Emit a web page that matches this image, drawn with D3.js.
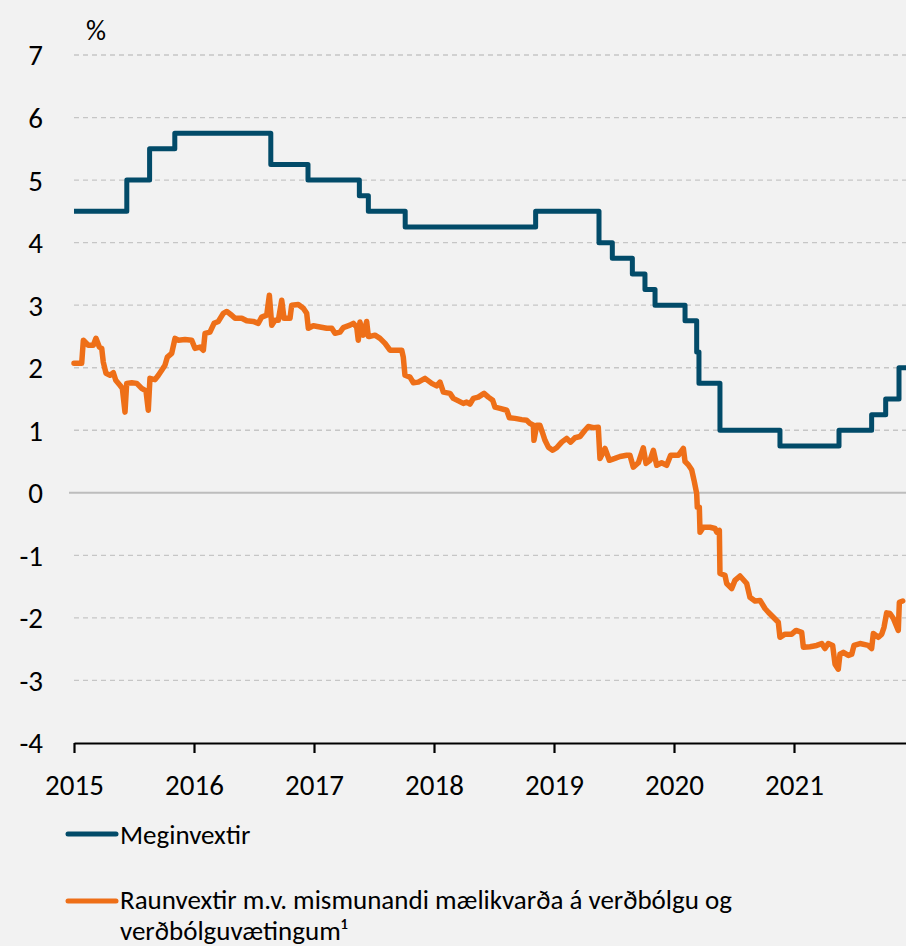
<!DOCTYPE html>
<html>
<head>
<meta charset="utf-8">
<script src="https://cdn.jsdelivr.net/npm/d3@7"></script>
<style>
  body { margin: 0; background: #f2f2f2; }
  svg { display: block; font-family: Calibri, Carlito, Lato, sans-serif; }
</style>
</head>
<body>
<svg id="chart" width="906" height="946"></svg>
<script>
// Meginvextir (step changes) - dates as decimal years
const policyDates = [2015.0, 2015.44, 2015.63, 2015.84, 2016.64, 2016.95, 2017.378, 2017.453, 2017.76,
  2018.847, 2019.375, 2019.486, 2019.653, 2019.758, 2019.842, 2020.092, 2020.189, 2020.208,
  2020.383, 2020.883, 2021.375, 2021.647, 2021.764, 2021.875, 2021.95];
const policyRate = [4.5, 5.0, 5.5, 5.75, 5.25, 5.0, 4.75, 4.5, 4.25,
  4.5, 4.0, 3.75, 3.5, 3.25, 3.0, 2.75, 2.25, 1.75,
  1.0, 0.75, 1.0, 1.25, 1.5, 2.0, 2.0];

// Raunvextir
const realDates = [2015.0, 2015.064, 2015.078, 2015.119, 2015.161, 2015.183, 2015.211, 2015.231, 2015.244, 2015.267,
  2015.300, 2015.328, 2015.348, 2015.383, 2015.403, 2015.425, 2015.439, 2015.481, 2015.523, 2015.564,
  2015.600, 2015.619, 2015.633, 2015.675, 2015.703, 2015.731, 2015.758, 2015.778, 2015.814, 2015.842,
  2015.869, 2015.925, 2015.981, 2016.008, 2016.050, 2016.078, 2016.092, 2016.133, 2016.167, 2016.203,
  2016.244, 2016.273, 2016.314, 2016.342, 2016.398, 2016.439, 2016.494, 2016.536, 2016.564, 2016.606,
  2016.628, 2016.648, 2016.675, 2016.703, 2016.731, 2016.750, 2016.800, 2016.814, 2016.869, 2016.911,
  2016.939, 2016.953, 2016.994, 2017.050, 2017.106, 2017.148, 2017.175, 2017.217, 2017.244, 2017.300,
  2017.328, 2017.356, 2017.369, 2017.383, 2017.411, 2017.439, 2017.453, 2017.467, 2017.508, 2017.550,
  2017.592, 2017.633, 2017.689, 2017.731, 2017.744, 2017.758, 2017.800, 2017.828, 2017.869, 2017.925,
  2017.981, 2018.022, 2018.050, 2018.078, 2018.133, 2018.161, 2018.203, 2018.244, 2018.272, 2018.300,
  2018.328, 2018.369, 2018.417, 2018.453, 2018.489, 2018.508, 2018.550, 2018.606, 2018.628, 2018.675,
  2018.731, 2018.772, 2018.800, 2018.828, 2018.833, 2018.856, 2018.883, 2018.906, 2018.925, 2018.953,
  2018.989, 2019.022, 2019.064, 2019.106, 2019.139, 2019.175, 2019.217, 2019.258, 2019.286, 2019.328,
  2019.369, 2019.383, 2019.425, 2019.461, 2019.508, 2019.550, 2019.606, 2019.633, 2019.661, 2019.703,
  2019.744, 2019.767, 2019.800, 2019.828, 2019.856, 2019.897, 2019.939, 2019.972, 2020.036, 2020.078,
  2020.092, 2020.119, 2020.147, 2020.167, 2020.189, 2020.194, 2020.211, 2020.217, 2020.244, 2020.300,
  2020.342, 2020.356, 2020.378, 2020.383, 2020.425, 2020.439, 2020.481, 2020.508, 2020.550, 2020.606,
  2020.633, 2020.675, 2020.717, 2020.758, 2020.786, 2020.828, 2020.869, 2020.883, 2020.925, 2020.981,
  2021.017, 2021.064, 2021.078, 2021.133, 2021.189, 2021.231, 2021.258, 2021.286, 2021.322, 2021.342,
  2021.369, 2021.383, 2021.411, 2021.453, 2021.481, 2021.500, 2021.550, 2021.619, 2021.647, 2021.661,
  2021.703, 2021.731, 2021.750, 2021.772, 2021.800, 2021.828, 2021.869, 2021.878, 2021.906];
const realRate = [2.07, 2.07, 2.44, 2.36, 2.36, 2.47, 2.33, 2.31, 2.09, 1.91,
  1.88, 1.92, 1.80, 1.72, 1.67, 1.29, 1.75, 1.76, 1.75, 1.67,
  1.63, 1.32, 1.83, 1.81, 1.88, 1.96, 2.04, 2.17, 2.23, 2.47,
  2.44, 2.45, 2.44, 2.31, 2.33, 2.28, 2.55, 2.57, 2.71, 2.74,
  2.87, 2.90, 2.84, 2.79, 2.79, 2.75, 2.74, 2.71, 2.81, 2.84,
  3.16, 2.68, 2.76, 2.76, 3.08, 2.79, 2.79, 3.00, 3.01, 2.95,
  2.87, 2.63, 2.67, 2.65, 2.63, 2.63, 2.55, 2.57, 2.64, 2.68,
  2.71, 2.65, 2.44, 2.73, 2.52, 2.74, 2.50, 2.50, 2.52, 2.47,
  2.39, 2.28, 2.28, 2.28, 2.17, 1.88, 1.85, 1.76, 1.77, 1.83,
  1.75, 1.71, 1.77, 1.61, 1.59, 1.51, 1.47, 1.43, 1.45, 1.42,
  1.51, 1.53, 1.59, 1.53, 1.48, 1.37, 1.35, 1.32, 1.20, 1.19,
  1.17, 1.16, 1.11, 1.08, 0.84, 1.08, 1.08, 0.95, 0.84, 0.73,
  0.68, 0.72, 0.81, 0.87, 0.81, 0.88, 0.90, 1.00, 1.06, 1.04,
  1.05, 0.55, 0.71, 0.52, 0.55, 0.58, 0.60, 0.60, 0.41, 0.48,
  0.72, 0.47, 0.52, 0.68, 0.44, 0.48, 0.44, 0.60, 0.60, 0.71,
  0.50, 0.45, 0.37, 0.20, -0.01, -0.23, -0.23, -0.63, -0.55, -0.55,
  -0.57, -0.63, -0.60, -1.29, -1.32, -1.45, -1.53, -1.40, -1.33, -1.45,
  -1.67, -1.73, -1.72, -1.85, -1.91, -1.99, -2.07, -2.31, -2.26, -2.26,
  -2.20, -2.23, -2.47, -2.46, -2.44, -2.41, -2.49, -2.41, -2.44, -2.74,
  -2.82, -2.58, -2.55, -2.60, -2.58, -2.44, -2.41, -2.44, -2.49, -2.25,
  -2.31, -2.26, -2.15, -1.92, -1.93, -2.01, -2.20, -1.75, -1.73];

const yearTicks = [2015, 2016, 2017, 2018, 2019, 2020, 2021];
const yTicks = [7, 6, 5, 4, 3, 2, 1, 0, -1, -2, -3, -4];
const legendLabels = ["Meginvextir", "Raunvextir m.v. mismunandi mælikvarða á verðbólgu og", "verðbólguvætingum¹"];

const blue = "#024b69", orange = "#ee6f18";

const svg = d3.select("#chart");

const x = d3.scaleLinear().domain([2015, 2022]).range([74, 914]);
const y = d3.scaleLinear().domain([-4, 7]).range([743, 55]);

// gridlines
svg.append("g")
  .selectAll("line")
  .data(yTicks.filter(d => d !== 0 && d !== -4))
  .join("line")
  .attr("x1", 74).attr("x2", 906)
  .attr("y1", d => y(d)).attr("y2", d => y(d))
  .attr("stroke", "#c6c6c6")
  .attr("stroke-width", 1.3)
  .attr("stroke-dasharray", "5,4");

// zero line
svg.append("line")
  .attr("x1", 69).attr("x2", 906)
  .attr("y1", y(0)).attr("y2", y(0))
  .attr("stroke", "#bdbdbd")
  .attr("stroke-width", 2);

// y labels
svg.append("g")
  .attr("font-size", 29)
  .attr("fill", "#000")
  .attr("text-anchor", "end")
  .selectAll("text")
  .data(yTicks)
  .join("text")
  .attr("x", 43)
  .attr("y", d => y(d))
  .attr("dy", "0.36em")
  .text(d => d);

svg.append("text")
  .attr("x", 86).attr("y", 40)
  .attr("font-size", 28)
  .text("%");

// x axis
const xAxis = d3.axisBottom(x)
  .tickValues(yearTicks)
  .tickSize(10)
  .tickSizeOuter(0)
  .tickPadding(21)
  .tickFormat(d3.format("d"));

const gx = svg.append("g")
  .attr("transform", "translate(0," + y(-4) + ")")
  .call(xAxis);
gx.select(".domain").attr("stroke", "#000").attr("stroke-width", 2.2);
gx.selectAll(".tick line").attr("stroke", "#000").attr("stroke-width", 2.2);
gx.selectAll(".tick text")
  .attr("font-family", "Calibri, Carlito, Lato, sans-serif")
  .attr("font-size", 29)
  .attr("fill", "#000");

// lines
const policyData = policyDates.map((d, i) => [d, policyRate[i]]);
const realData = realDates.map((d, i) => [d, realRate[i]]);

svg.append("path")
  .datum(realData)
  .attr("fill", "none")
  .attr("stroke", orange)
  .attr("stroke-width", 5.5)
  .attr("stroke-linejoin", "round")
  .attr("stroke-linecap", "round")
  .attr("d", d3.line().x(d => x(d[0])).y(d => y(d[1])));

svg.append("path")
  .datum(policyData)
  .attr("fill", "none")
  .attr("stroke", blue)
  .attr("stroke-width", 5)
  .attr("stroke-linejoin", "round")
  .attr("d", d3.line().curve(d3.curveStepAfter).x(d => x(d[0])).y(d => y(d[1])));

// legend
const leg = svg.append("g").attr("font-size", 27).attr("fill", "#000");
leg.append("line").attr("x1", 68).attr("x2", 116).attr("y1", 834).attr("y2", 834)
  .attr("stroke", blue).attr("stroke-width", 5).attr("stroke-linecap", "round");
leg.append("text").attr("x", 120).attr("y", 834).attr("dy", "0.36em").text(legendLabels[0]);
leg.append("line").attr("x1", 68).attr("x2", 116).attr("y1", 901).attr("y2", 901)
  .attr("stroke", orange).attr("stroke-width", 5).attr("stroke-linecap", "round");
leg.append("text").attr("x", 120).attr("y", 899).attr("dy", "0.36em").text(legendLabels[1]);
leg.append("text").attr("x", 120).attr("y", 930).attr("dy", "0.36em").text(legendLabels[2]);
</script>
</body>
</html>
